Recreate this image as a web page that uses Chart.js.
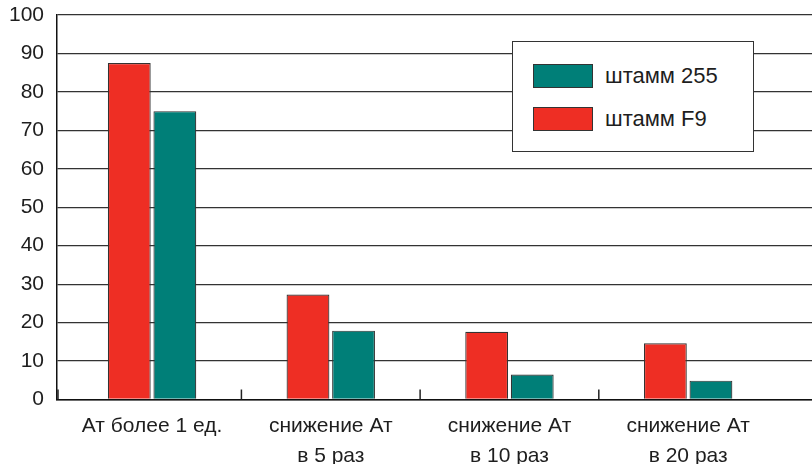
<!DOCTYPE html>
<html lang="ru">
<head>
<meta charset="utf-8">
<script src="https://cdn.jsdelivr.net/npm/chart.js@4.4.1/dist/chart.umd.min.js"></script>
<style>
  html, body { margin: 0; padding: 0; background: #fff; overflow: hidden; }
  #wrap { position: relative; width: 812px; height: 464px; }
  #legenda {
    position: absolute; left: 512px; top: 41px; width: 240px; height: 109px;
    background: #fff; border: 1.5px solid #333;
    font-family: "Liberation Sans", Arial, sans-serif; font-size: 22px; color: #1e1e1e;
  }
  .item { position: absolute; left: 20px; display: flex; align-items: center; }
  .cor { width: 58px; height: 22px; border: 1px solid #333; margin-right: 12px; }
</style>
</head>
<body>
<div id="wrap">
  <canvas id="grafico" width="812" height="464"></canvas>
  <div id="legenda"></div>
</div>
<script>
// ---------------- DADOS ----------------
const categorias = [
  'Ат более 1 ед.',
  ['снижение Ат', 'в 5 раз'],
  ['снижение Ат', 'в 10 раз'],
  ['снижение Ат', 'в 20 раз']
];
const valoresF9 = [87.5, 27.3, 17.6, 14.6];
const valores255 = [75, 17.9, 6.5, 4.9];
const nomesSeries = ['штамм F9', 'штамм 255'];
const coresSeries = ['#ee2e24', '#007f78'];
const ticksY = [0, 10, 20, 30, 40, 50, 60, 70, 80, 90, 100];

const fonte = '"Liberation Sans", Arial, sans-serif';

// marquinhas entre as categorias no eixo x
const marcasEixo = {
  id: 'marcasEixo',
  afterDatasetsDraw(chart) {
    const { ctx, chartArea, scales: { x } } = chart;
    ctx.save();
    ctx.strokeStyle = '#222';
    ctx.lineWidth = 1.5;
    const posicoes = [chartArea.left + 1];
    for (let i = 0; i < categorias.length - 1; i++) posicoes.push(x.getPixelForValue(i + 0.5));
    posicoes.forEach(px => {
      ctx.beginPath();
      ctx.moveTo(px, chartArea.bottom - 10);
      ctx.lineTo(px, chartArea.bottom);
      ctx.stroke();
    });
    ctx.restore();
  }
};

const series = [valoresF9, valores255].map((vals, s) => ({
  label: nomesSeries[s],
  data: vals.map((v, i) => ({ x: i, y: v })),
  backgroundColor: coresSeries[s],
  borderColor: '#333',
  borderWidth: 1.2,
  categoryPercentage: 0.51,
  barPercentage: 0.94
}));

const ctx = document.getElementById('grafico').getContext('2d');
new Chart(ctx, {
  type: 'bar',
  data: { datasets: series },
  options: {
    responsive: false,
    animation: false,
    layout: { padding: { top: 15, right: 0, left: 0, bottom: 0 } },
    scales: {
      x: {
        type: 'linear',
        offset: false,
        min: -0.532,
        max: 3.693,
        afterFit: s => { s.height = 64.5; s.paddingLeft = 0; s.paddingRight = 0; },
        afterBuildTicks: s => { s.ticks = categorias.map((_, i) => ({ value: i })); },
        grid: { display: false },
        border: { display: true, color: '#111', width: 1.5 },
        ticks: {
          autoSkip: false,
          maxRotation: 0,
          padding: 3,
          color: '#1e1e1e',
          font: { family: fonte, size: 21, lineHeight: 1.45 },
          callback: v => categorias[v]
        }
      },
      y: {
        min: 0,
        max: 100,
        afterFit: s => { s.width = 57; s.paddingTop = 0; s.paddingBottom = 0; },
        afterBuildTicks: s => { s.ticks = ticksY.map(v => ({ value: v })); },
        grid: { color: '#333', lineWidth: 1.3, drawTicks: false },
        border: { display: true, color: '#111', width: 1.5 },
        ticks: {
          padding: 13,
          color: '#1e1e1e',
          font: { family: fonte, size: 21 }
        }
      }
    },
    plugins: {
      legend: { display: false },
      tooltip: { enabled: false }
    }
  },
  plugins: [marcasEixo]
});

// legenda (ordem invertida como no original)
const legenda = document.getElementById('legenda');
[1, 0].forEach((s, n) => {
  const item = document.createElement('div');
  item.className = 'item';
  item.style.top = (21 + n * 43) + 'px';
  item.innerHTML = `<div class="cor" style="background:${coresSeries[s]}"></div><span>${nomesSeries[s]}</span>`;
  legenda.appendChild(item);
});
</script>
</body>
</html>
